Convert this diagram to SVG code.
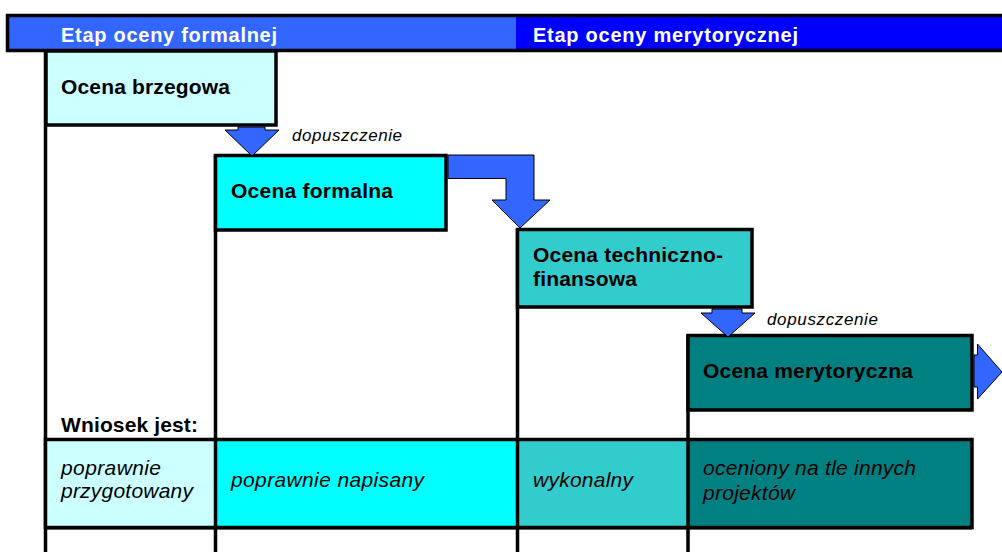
<svg xmlns="http://www.w3.org/2000/svg" width="1002" height="552" viewBox="0 0 1002 552">
<style>
.b{stroke:#000;stroke-width:3.5}
.ln{stroke:#000;stroke-width:3.5;fill:none}
.arr{fill:#3366FF;stroke:#000;stroke-width:1}
.hd{font-family:"Liberation Sans",Arial,sans-serif;font-weight:bold;font-size:20px;fill:#fff}
.bt{font-family:"Liberation Sans",Arial,sans-serif;font-weight:bold;font-size:21px;fill:#000}
.it{font-family:"Liberation Sans",Arial,sans-serif;font-style:italic;font-size:21px;fill:#000}
.sm{font-family:"Liberation Sans",Arial,sans-serif;font-style:italic;font-size:17px;fill:#000}
</style>
<rect width="1002" height="552" fill="#fff"/>
<g id="header">
<rect x="7.5" y="15.5" width="509" height="35" fill="#3366FF"/>
<rect x="516" y="15.5" width="490" height="35" fill="#0000FF"/>
<rect x="7.5" y="15.5" width="1000" height="35" class="b" fill="none"/>
<text class="hd" x="61" y="41.5" textLength="216">Etap oceny formalnej</text>
<text class="hd" x="533" y="41.5" textLength="265">Etap oceny merytorycznej</text>
</g>
<g id="connectors">
<line class="ln" x1="45.5" y1="50" x2="45.5" y2="552"/>
<line class="ln" x1="215.5" y1="155" x2="215.5" y2="552"/>
<line class="ln" x1="517.5" y1="229" x2="517.5" y2="552"/>
<line class="ln" x1="688" y1="335" x2="688" y2="552"/>
</g>
<g id="ocena-brzegowa">
<rect x="46" y="51" width="230" height="74" class="b" fill="#CCFFFF" stroke-width="4"/>
<text class="bt" x="61" y="94" textLength="169">Ocena brzegowa</text>
</g>
<g id="ocena-formalna">
<rect x="215.5" y="155.5" width="230.5" height="74.5" class="b" fill="#00FFFF"/>
<text class="bt" x="231" y="198" textLength="162">Ocena formalna</text>
</g>
<g id="ocena-techniczno-finansowa">
<rect x="517.5" y="229.5" width="234.5" height="77.5" class="b" fill="#33CCCC"/>
<text class="bt" x="533" y="262" textLength="190">Ocena techniczno-</text>
<text class="bt" x="533" y="286" textLength="104">finansowa</text>
</g>
<g id="ocena-merytoryczna">
<rect x="688" y="335.5" width="284" height="74.5" class="b" fill="#008080"/>
<text class="bt" x="703" y="378" textLength="210">Ocena merytoryczna</text>
</g>
<g id="arrows">
<polygon class="arr" points="238,127 265,127 265,130 279,130 252,156 225,130 238,130"/>
<text class="sm" x="292" y="141" textLength="110">dopuszczenie</text>
<polygon class="arr" points="448,155 534,155 534,200 550,200 520,228 492,200 506,200 506,178.5 448,178.5"/>
<polygon class="arr" points="712,309 742,309 742,313 755,313 728,337 701,313 712,313"/>
<text class="sm" x="767" y="324.5" textLength="111">dopuszczenie</text>
<polygon class="arr" points="974,355 977.5,355 977.5,344 1002,372 977.5,399 977.5,387 974,387"/>
</g>
<g id="wniosek-label">
<text class="bt" x="61" y="431.5" textLength="137">Wniosek jest:</text>
</g>
<g id="wniosek-row">
<rect x="45.5" y="439.5" width="170" height="88" fill="#CCFFFF"/>
<rect x="215.5" y="439.5" width="302" height="88" fill="#00FFFF"/>
<rect x="517.5" y="439.5" width="170.5" height="88" fill="#33CCCC"/>
<rect x="688" y="439.5" width="284" height="88" fill="#008080"/>
<rect x="45.5" y="439.5" width="926.5" height="88" class="b" fill="none"/>
<line class="ln" x1="215.5" y1="439.5" x2="215.5" y2="527.5"/>
<line class="ln" x1="517.5" y1="439.5" x2="517.5" y2="527.5"/>
<line class="ln" x1="688" y1="439.5" x2="688" y2="527.5"/>
<line x1="45.5" y1="528.5" x2="972" y2="528.5" stroke="#000" stroke-width="2"/>
<text class="it" x="61" y="475" textLength="100">poprawnie</text>
<text class="it" x="61" y="498" textLength="132">przygotowany</text>
<text class="it" x="231" y="487" textLength="193">poprawnie napisany</text>
<text class="it" x="533" y="487" textLength="100">wykonalny</text>
<text class="it" x="703" y="475" textLength="213">oceniony na tle innych</text>
<text class="it" x="703" y="500" textLength="92">projektów</text>
</g>
</svg>
